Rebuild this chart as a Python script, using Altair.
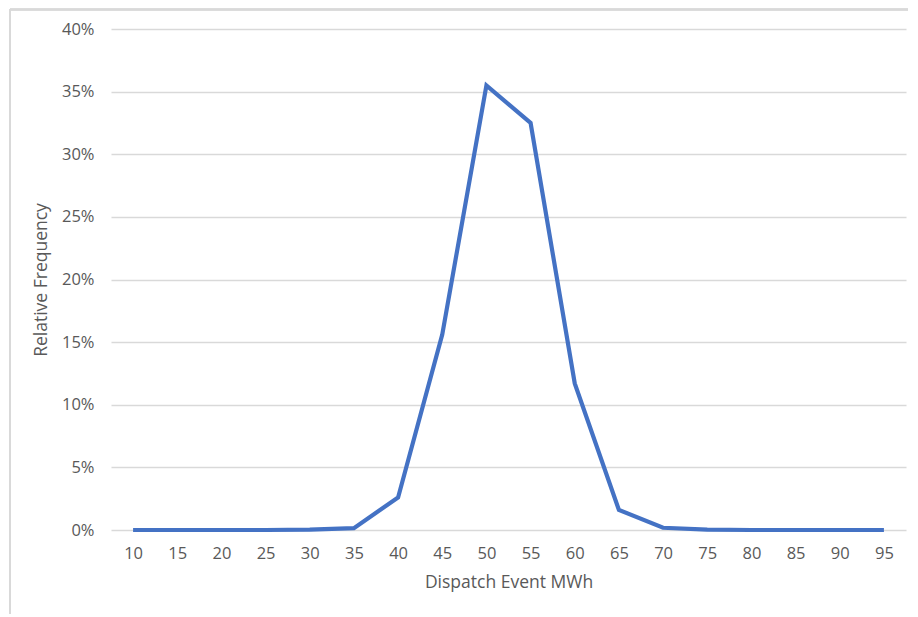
import altair as alt
import pandas as pd

mwh = [10, 15, 20, 25, 30, 35, 40, 45, 50, 55, 60, 65, 70, 75, 80, 85, 90, 95]
freq = [0.0, 0.0, 0.0, 0.0, 0.0003, 0.0015, 0.026, 0.156, 0.355, 0.325, 0.117, 0.016, 0.0018, 0.0003, 0.0, 0.0, 0.0, 0.0]

df = pd.DataFrame({"mwh": mwh, "freq": freq})

FONT = "Open Sans"
GREY = "#595959"

line = alt.Chart(df).mark_line(color="#4472C4", strokeWidth=4.2, strokeJoin="miter", strokeCap="butt").encode(
    x=alt.X("mwh:O", sort=mwh,
            scale=alt.Scale(type="point", padding=0.5),
            axis=alt.Axis(title="Dispatch Event MWh", labelAngle=0, ticks=False, domain=False,
                          grid=False, labelPadding=15, labelFontSize=16.5, labelColor=GREY,
                          titleFontSize=17.5, titleColor=GREY, titleFontWeight="normal",
                          titlePadding=12, labelFont=FONT, titleFont=FONT)),
    y=alt.Y("freq:Q",
            scale=alt.Scale(domain=[0, 0.4], nice=False),
            axis=alt.Axis(title="Relative Frequency", format=".0%", values=[0, 0.05, 0.1, 0.15, 0.2, 0.25, 0.3, 0.35, 0.4],
                          ticks=False, domain=False, grid=True, gridColor="#d9d9d9", gridWidth=1.5,
                          labelPadding=17, labelFontSize=16.5, labelColor=GREY,
                          titleFontSize=17.5, titleColor=GREY, titleFontWeight="normal",
                          titlePadding=11, labelFont=FONT, titleFont=FONT)),
)

border_top = alt.Chart(df).mark_rule(color="#d9d9d9", strokeWidth=1.5).encode(
    x=alt.value(-101), x2=alt.value(800), y=alt.value(-19.5)
)
border_left = alt.Chart(df).mark_rule(color="#d9d9d9", strokeWidth=1.5).encode(
    x=alt.value(-101), y=alt.value(-19.5), y2=alt.value(700)
)

chart = alt.layer(border_top, border_left, line).properties(
    width=795, height=501,
    padding={"left": 103, "top": 21, "right": 2, "bottom": 84},
    autosize=alt.AutoSizeParams(type="none"),
).configure(background="white", view=alt.ViewConfig(stroke=None))

chart.save("out.html", embed_options={"renderer": "svg", "actions": False})
